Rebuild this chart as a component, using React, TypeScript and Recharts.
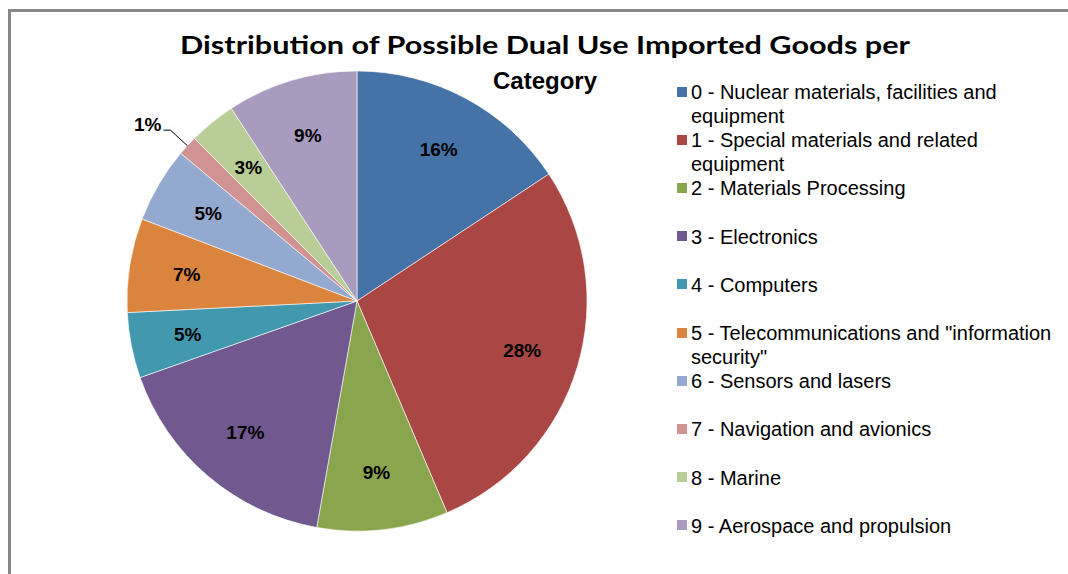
import React from "react";
import { PieChart, Pie, Cell, Legend } from "recharts";

const categories = [
  "0 - Nuclear materials, facilities and equipment",
  "1 - Special materials and related equipment",
  "2 - Materials Processing",
  "3 - Electronics",
  "4 - Computers",
  '5 - Telecommunications and "information security"',
  "6 - Sensors and lasers",
  "7 - Navigation and avionics",
  "8 - Marine",
  "9 - Aerospace and propulsion",
];
const shares = [15.7, 27.9, 9.2, 16.8, 4.6, 6.6, 5.3, 1.4, 3.3, 9.2];
const colors = [
  "#4572A7",
  "#AA4643",
  "#89A54E",
  "#71588F",
  "#4198AF",
  "#DB843D",
  "#93A9CF",
  "#D19392",
  "#B9CD96",
  "#A99BBD",
];
const titleLine1 = "Distribution of Possible Dual Use Imported Goods per";
const titleLine2 = "Category";

const data = categories.map((name, i) => ({ name, value: shares[i] }));

const RAD = Math.PI / 180;
const ARIAL = '"Liberation Sans", Arial, sans-serif';

const renderLabel = (props: any) => {
  const { cx, cy, midAngle, outerRadius, percent, index } = props;
  const pct = Math.round(percent * 100);
  const text = `${pct}%`;
  const cos = Math.cos(-midAngle * RAD);
  const sin = Math.sin(-midAngle * RAD);
  if (percent < 0.015) {
    const x1 = cx + outerRadius * cos;
    const y1 = cy + outerRadius * sin;
    const r2 = outerRadius + 23;
    const x2 = cx + r2 * cos;
    const y2 = cy + r2 * sin;
    const x3 = x2 - 7;
    return (
      <g key={`lbl-${index}`}>
        <polyline
          points={`${x1},${y1} ${x2},${y2} ${x3},${y2}`}
          fill="none"
          stroke="#000"
          strokeWidth={1}
        />
        <text
          x={x3 - 2}
          y={y2 + 1}
          textAnchor="end"
          fontFamily={ARIAL}
          fontWeight="bold"
          fontSize={19}
          fill="#000"
        >
          {text}
        </text>
      </g>
    );
  }
  const r = outerRadius * 0.75;
  const x = cx + r * cos;
  const y = cy + r * sin;
  return (
    <text
      key={`lbl-${index}`}
      x={x}
      y={y}
      textAnchor="middle"
      dominantBaseline="central"
      fontFamily={ARIAL}
      fontWeight="bold"
      fontSize={19}
      fill="#000"
    >
      {text}
    </text>
  );
};

const renderLegend = (props: any) => {
  const payload = props.payload || [];
  return (
    <div style={{ position: "relative", width: 390, height: 480 }}>
      {payload.map((entry: any, i: number) => (
        <div
          key={`leg-${i}`}
          style={{ position: "absolute", left: 0, top: i * 48.2, width: 390 }}
        >
          <div
            style={{
              position: "absolute",
              left: 0,
              top: 6.5,
              width: 10,
              height: 10,
              background: entry.color,
            }}
          />
          <div
            style={{
              position: "absolute",
              left: 14,
              top: 0,
              width: 374,
              fontFamily: ARIAL,
              fontSize: 20,
              lineHeight: "24px",
              color: "#000",
              whiteSpace: "normal",
            }}
          >
            {entry.value}
          </div>
        </div>
      ))}
    </div>
  );
};

export default function App() {
  return (
    <div
      style={{
        position: "fixed",
        left: 0,
        top: 0,
        width: 1068,
        height: 574,
        overflow: "hidden",
        background: "#fff",
      }}
    >
      <div
        style={{
          position: "absolute",
          left: 8,
          top: 9,
          width: 1100,
          height: 600,
          border: "3px solid #888888",
          boxSizing: "border-box",
        }}
      />
      <div style={{ position: "absolute", left: 0, top: 0 }}>
        <PieChart
          width={1068}
          height={574}
          margin={{ top: 0, right: 0, bottom: 0, left: 0 }}
        >
          <Pie
            data={data}
            dataKey="value"
            nameKey="name"
            cx={357}
            cy={301}
            outerRadius={230}
            startAngle={90}
            endAngle={-270}
            stroke="#ffffff"
            strokeWidth={0.6}
            label={renderLabel}
            labelLine={false}
            isAnimationActive={false}
          >
            {data.map((d, i) => (
              <Cell key={`c-${i}`} fill={colors[i]} />
            ))}
          </Pie>
          <Legend
            layout="vertical"
            align="right"
            verticalAlign="top"
            content={renderLegend}
            wrapperStyle={{ left: 677, top: 80, width: 390, right: "auto" }}
          />
        </PieChart>
      </div>
      <svg
        width={1068}
        height={574}
        style={{ position: "absolute", left: 0, top: 0, pointerEvents: "none" }}
      >
        <text
          x={180}
          y={54}
          textLength={730}
          lengthAdjust="spacingAndGlyphs"
          fontFamily="Lato, 'Open Sans', sans-serif"
          fontWeight="bold"
          fontSize={25}
          fill="#000"
        >
          {titleLine1}
        </text>
        <text
          x={545}
          y={89}
          textAnchor="middle"
          fontFamily={ARIAL}
          fontWeight="bold"
          fontSize={24}
          fill="#000"
        >
          {titleLine2}
        </text>
      </svg>
    </div>
  );
}
